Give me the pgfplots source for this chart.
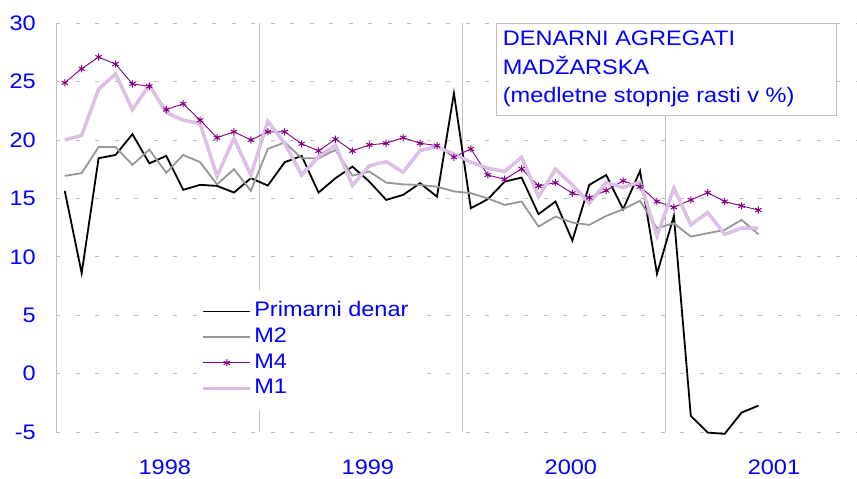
\documentclass[border=0pt]{standalone}
\usepackage{fontspec}
\setmainfont{Liberation Sans}[FakeStretch=1.12]
\usepackage{pgfplots}
\usepackage{pgfplotstable}
\pgfplotsset{compat=1.18}
\definecolor{tblue}{RGB}{0,0,255}
\definecolor{mfour}{RGB}{128,0,128}
\definecolor{mone}{RGB}{218,184,228}
\definecolor{mtwo}{RGB}{150,150,150}
\definecolor{gridc}{RGB}{190,190,190}

\pgfplotstableread{
i v
0 15.64
1 8.6
2 18.44
3 18.72
4 20.5
5 18.0
6 18.64
7 15.73
8 16.16
9 16.07
10 15.5
11 16.73
12 16.1
13 18.1
14 18.64
15 15.5
16 16.73
17 17.72
18 16.44
19 14.87
20 15.3
21 16.3
22 15.15
23 24.0
24 14.16
25 14.93
26 16.44
27 16.78
28 13.65
29 14.73
30 11.39
31 16.16
32 17.0
33 14.07
34 17.35
35 8.54
36 13.5
37 -3.62
38 -5.05
39 -5.16
40 -3.34
41 -2.74
}\primarni

\pgfplotstableread{
i v
0 16.93
1 17.16
2 19.4
3 19.4
4 17.87
5 19.18
6 17.2
7 18.72
8 18.1
9 16.2
10 17.5
11 15.64
12 19.24
13 19.8
14 18.44
15 18.44
16 19.15
17 16.95
18 17.3
19 16.35
20 16.2
21 16.15
22 16.0
23 15.6
24 15.45
25 15.0
26 14.44
27 14.73
28 12.59
29 13.44
30 12.93
31 12.73
32 13.5
33 14.07
34 14.79
35 12.45
36 12.87
37 11.73
38 12.02
39 12.3
40 13.16
41 11.93
}\mtwotab

\pgfplotstableread{
i v
0 24.9
1 26.1
2 27.1
3 26.5
4 24.8
5 24.6
6 22.6
7 23.1
8 21.7
9 20.2
10 20.7
11 20.0
12 20.7
13 20.7
14 19.67
15 19.07
16 20.07
17 19.07
18 19.58
19 19.72
20 20.2
21 19.72
22 19.52
23 18.53
24 19.24
25 17.0
26 16.64
27 17.53
28 16.07
29 16.35
30 15.44
31 15.07
32 15.67
33 16.5
34 16.0
35 14.73
36 14.24
37 14.87
38 15.5
39 14.73
40 14.36
41 14.0
}\mfourtab

\pgfplotstableread{
i v
0 20.0
1 20.4
2 24.35
3 25.66
4 22.6
5 24.7
6 22.35
7 21.7
8 21.4
9 16.9
10 20.15
11 17.0
12 21.6
13 19.72
14 17.0
15 18.58
16 19.52
17 16.1
18 17.8
19 18.15
20 17.24
21 19.1
22 19.43
23 18.8
24 18.1
25 17.59
26 17.3
27 18.53
28 15.15
29 17.5
30 16.16
31 14.59
32 16.35
33 15.93
34 16.4
35 11.79
36 15.87
37 12.73
38 13.79
39 11.93
40 12.45
41 12.45
}\monetab

\begin{document}
\begin{tikzpicture}
\path[use as bounding box] (0,0) rectangle (857bp,479bp);
\begin{axis}[
  at={(56.3bp,47bp)}, anchor=south west,
  x=16.92bp, y=11.68bp,
  xmin=-0.5, xmax=46.82, ymin=-5, ymax=30,
  axis lines*=left,
  x axis line style={draw=none},
  y axis line style={draw=gridc, line width=0.8bp},
  tick style={draw=none},
  ytick={-5,0,...,30},
  xtick={5.5,17.5,29.5,41.5},
  xticklabels={1998,1999,2000,2001},
  ymajorgrids,
  major grid style={draw=gridc, line width=0.8bp, dash pattern=on 4bp off 15.5bp},
  extra x ticks={11.5,23.5,35.5},
  extra x tick labels={},
  extra x tick style={xmajorgrids=true, major grid style={draw=gridc, line width=0.8bp, solid}},
  /pgf/number format/assume math mode=true,
  ticklabel style={font=\fontsize{21bp}{24bp}\selectfont, text=tblue},
  yticklabel style={xshift=-17bp},
  xticklabel style={yshift=-24bp, xshift=7bp},
  legend style={at={(0.1802,0.3474)}, anchor=north west, fill=white, draw=none,
    font=\fontsize{21bp}{24bp}\selectfont, text=tblue,
    inner xsep=1bp, inner ysep=10bp, row sep=3.2bp,
    nodes={inner xsep=2.5bp, inner ysep=1.5bp, text height=15bp, text depth=4.5bp},
    cells={anchor=west}},
  legend image code/.code={\draw[mark repeat=2,mark phase=2,#1] plot coordinates {(0bp,0bp) (23.3bp,0bp) (46.6bp,0bp)};},
  clip=false,
]
\addplot[black, line width=1.8bp, no markers] table[x=i,y=v] {\primarni};
\addlegendentry{Primarni denar}
\addplot[mtwo, line width=1.8bp, no markers] table[x=i,y=v] {\mtwotab};
\addlegendentry{M2}
\addplot[mfour, line width=0.9bp, mark=asterisk, mark size=3.6bp, mark options={line width=1bp}] table[x=i,y=v] {\mfourtab};
\addlegendentry{M4}
\addplot[mone, line width=3.4bp, no markers] table[x=i,y=v] {\monetab};
\addlegendentry{M1}
\addplot[white, line width=1bp, no markers, opacity=0.45, dash pattern=on 1bp off 1.5bp, forget plot] table[x=i,y=v] {\monetab};
\end{axis}
\node[draw=gridc, line width=0.8bp, fill=white, minimum width=340bp, minimum height=92.3bp, anchor=north west, inner sep=0pt] at (496bp,456.3bp) {};
\begin{scope}[every node/.style={anchor=base west, inner sep=0pt, text=tblue, font=\fontsize{21bp}{24bp}\selectfont}]
\node at (502.7bp,433bp) {DENARNI AGREGATI};
\node at (502.7bp,404bp) {MADŽARSKA};
\node at (502.7bp,376.3bp) {(medletne stopnje rasti v \%)};
\end{scope}
\end{tikzpicture}
\end{document}
